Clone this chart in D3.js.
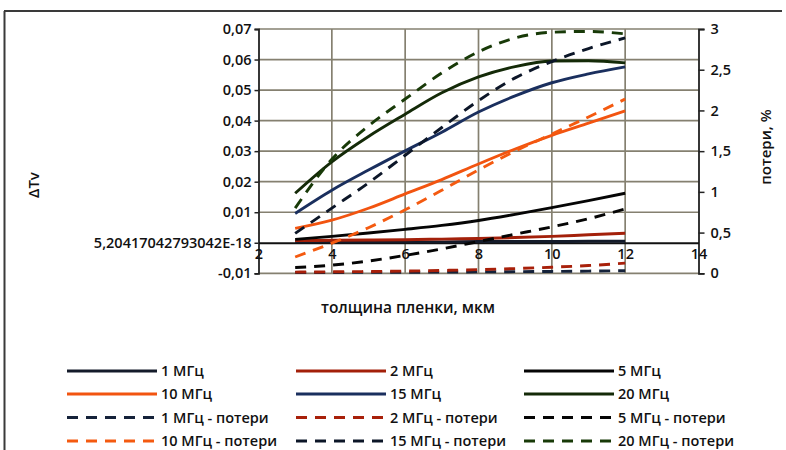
<!DOCTYPE html>
<html>
<head>
<meta charset="utf-8">
<script src="https://cdn.jsdelivr.net/npm/d3@7"></script>
<style>
  html, body { margin: 0; padding: 0; background: #fff; }
  svg text { font-family: 'Open Sans', 'Noto Sans', sans-serif; fill: #111; font-weight: 600; }
</style>
</head>
<body>
<div id="chart"></div>
<script>
// толщина пленки, мкм
const thickness = [3, 4, 5, 6, 7, 8, 9, 10, 11, 12];

// ΔTv (left axis)
const dT1  = [0.0003, 0.0003, 0.0003, 0.0003, 0.0003, 0.0004, 0.0004, 0.0004, 0.0005, 0.0005];
const dT2  = [0.0007, 0.0008, 0.0009, 0.0010, 0.0012, 0.0014, 0.0017, 0.0021, 0.0026, 0.0031];
const dT5  = [0.0011, 0.0021, 0.0032, 0.0044, 0.0057, 0.0073, 0.0093, 0.0115, 0.0138, 0.0162];
const dT10 = [0.0047, 0.0074, 0.0113, 0.0160, 0.0207, 0.0258, 0.0307, 0.0352, 0.0392, 0.0432];
const dT15 = [0.0096, 0.0172, 0.0238, 0.0301, 0.0362, 0.0428, 0.0481, 0.0524, 0.0553, 0.0576];
const dT20 = [0.0162, 0.0265, 0.0348, 0.0421, 0.0491, 0.0543, 0.0577, 0.0595, 0.0596, 0.0589];

// потери, % (right axis)
const loss1  = [0.010, 0.010, 0.012, 0.013, 0.015, 0.017, 0.020, 0.023, 0.027, 0.032];
const loss2  = [0.015, 0.018, 0.022, 0.027, 0.035, 0.045, 0.058, 0.075, 0.095, 0.125];
const loss5  = [0.07, 0.10, 0.15, 0.22, 0.30, 0.39, 0.48, 0.57, 0.67, 0.79];
const loss10 = [0.20, 0.37, 0.56, 0.78, 1.02, 1.27, 1.50, 1.71, 1.92, 2.14];
const loss15 = [0.49, 0.80, 1.11, 1.45, 1.79, 2.12, 2.40, 2.60, 2.76, 2.89];
const loss20 = [0.80, 1.40, 1.81, 2.14, 2.46, 2.72, 2.89, 2.96, 2.97, 2.94];

const xTicks = [2, 4, 6, 8, 10, 12, 14];
const leftTicks = [-0.01, 0, 0.01, 0.02, 0.03, 0.04, 0.05, 0.06, 0.07];
const leftTickLabels = ['-0,01', '5,20417042793042E-18', '0,01', '0,02', '0,03', '0,04', '0,05', '0,06', '0,07'];
const rightTicks = [0, 0.5, 1, 1.5, 2, 2.5, 3];
const rightTickLabels = ['0', '0,5', '1', '1,5', '2', '2,5', '3'];

const series = [
  { name: '1 МГц', values: dT1, axis: 'L', color: '#141b2a', dash: null },
  { name: '2 МГц', values: dT2, axis: 'L', color: '#a3200a', dash: null },
  { name: '5 МГц', values: dT5, axis: 'L', color: '#050505', dash: null },
  { name: '10 МГц', values: dT10, axis: 'L', color: '#f25410', dash: null },
  { name: '15 МГц', values: dT15, axis: 'L', color: '#1a2f5e', dash: null },
  { name: '20 МГц', values: dT20, axis: 'L', color: '#142a08', dash: null },
  { name: '1 МГц - потери', values: loss1, axis: 'R', color: '#15223a', dash: '11,8' },
  { name: '2 МГц - потери', values: loss2, axis: 'R', color: '#a8200a', dash: '11,8' },
  { name: '5 МГц - потери', values: loss5, axis: 'R', color: '#050505', dash: '11,8' },
  { name: '10 МГц - потери', values: loss10, axis: 'R', color: '#f45a10', dash: '11,8' },
  { name: '15 МГц - потери', values: loss15, axis: 'R', color: '#0c1628', dash: '11,8' },
  { name: '20 МГц - потери', values: loss20, axis: 'R', color: '#183a08', dash: '11,8' },
];

const W = 786, H = 450;
const plot = { left: 258.5, right: 698.5, top: 29, bottom: 273.3 };
const gridColor = '#858070';

const svg = d3.select('#chart').append('svg').attr('width', W).attr('height', H);

// outer frame (top and left edges)
svg.append('line').attr('x1', 4).attr('x2', 782).attr('y1', 11).attr('y2', 11).attr('stroke', '#3a3a3a').attr('stroke-width', 2);
svg.append('line').attr('x1', 4.5).attr('x2', 4.5).attr('y1', 11).attr('y2', H).attr('stroke', '#3a3a3a').attr('stroke-width', 2);

const x = d3.scaleLinear().domain([2, 14]).range([plot.left, plot.right]);
const yL = d3.scaleLinear().domain([-0.01, 0.07]).range([plot.bottom, plot.top]);
const yR = d3.scaleLinear().domain([0, 3]).range([plot.bottom, plot.top]);

// gridlines
svg.append('g').selectAll('line').data(leftTicks.filter(d => d !== 0)).join('line')
  .attr('x1', plot.left).attr('x2', plot.right).attr('y1', d => yL(d)).attr('y2', d => yL(d))
  .attr('stroke', gridColor).attr('stroke-width', 1.7);
svg.append('g').selectAll('line').data(xTicks.slice(1, -1)).join('line')
  .attr('x1', d => x(d)).attr('x2', d => x(d)).attr('y1', plot.top).attr('y2', plot.bottom)
  .attr('stroke', gridColor).attr('stroke-width', 1.7);

// left axis
const gL = svg.append('g').attr('transform', `translate(${plot.left},0)`)
  .call(d3.axisLeft(yL).tickValues(leftTicks).tickSize(4).tickPadding(3)
    .tickFormat((d, i) => leftTickLabels[i]));
gL.select('.domain').attr('stroke', '#222').attr('stroke-width', 1.8);
gL.selectAll('.tick line').attr('stroke', '#222').attr('stroke-width', 1.5);
gL.selectAll('text').style('font-size', '14.5px').attr('fill', '#111');

// right axis
const gR = svg.append('g').attr('transform', `translate(${plot.right},0)`)
  .call(d3.axisRight(yR).tickValues(rightTicks).tickSize(6).tickPadding(6)
    .tickFormat((d, i) => rightTickLabels[i]));
gR.select('.domain').attr('stroke', '#222').attr('stroke-width', 1.8);
gR.selectAll('.tick line').attr('stroke', '#222').attr('stroke-width', 1.5);
gR.selectAll('text').style('font-size', '14.5px').attr('fill', '#111');

// horizontal axis crossing at zero
const gX = svg.append('g').attr('transform', `translate(0,${yL(0)})`)
  .call(d3.axisBottom(x).tickValues(xTicks).tickSize(0).tickPadding(6).tickFormat(d => String(d)));
gX.select('.domain').attr('stroke', '#111').attr('stroke-width', 2.2);
gX.selectAll('text').style('font-size', '14.5px').attr('fill', '#111');

// series
const line = (scale) => d3.line().x((d, i) => x(thickness[i])).y(d => scale(d)).curve(d3.curveMonotoneX);
svg.append('g').selectAll('path').data(series).join('path')
  .attr('d', s => line(s.axis === 'L' ? yL : yR)(s.values))
  .attr('fill', 'none').attr('stroke', s => s.color).attr('stroke-width', 2.9)
  .attr('stroke-dasharray', s => s.dash);

// axis titles
svg.append('text').attr('transform', 'translate(39,185) rotate(-90)').attr('text-anchor', 'middle')
  .style('font-size', '15px').text('ΔTv');
svg.append('text').attr('transform', 'translate(766,147) rotate(-90)').attr('text-anchor', 'middle')
  .attr('dy', '0.35em').style('font-size', '15px').text('потери, %');
svg.append('text').attr('x', 408).attr('y', 308).attr('dy', '0.35em').attr('text-anchor', 'middle')
  .style('font-size', '15.5px').text('толщина пленки, мкм');

// legend
const legCols = [67, 296, 524];
const legRows = [371, 394, 417.5, 441];
const leg = svg.append('g').selectAll('g').data(series).join('g')
  .attr('transform', (s, i) => `translate(${legCols[i % 3]},${legRows[Math.floor(i / 3)]})`);
leg.append('line').attr('x1', 0).attr('x2', 90).attr('y1', 0).attr('y2', 0)
  .attr('stroke', s => s.color).attr('stroke-width', 3.2).attr('stroke-dasharray', s => s.dash);
leg.append('text').attr('x', 94).attr('dy', '0.35em').style('font-size', '14.5px').text(s => s.name);
</script>
</body>
</html>
